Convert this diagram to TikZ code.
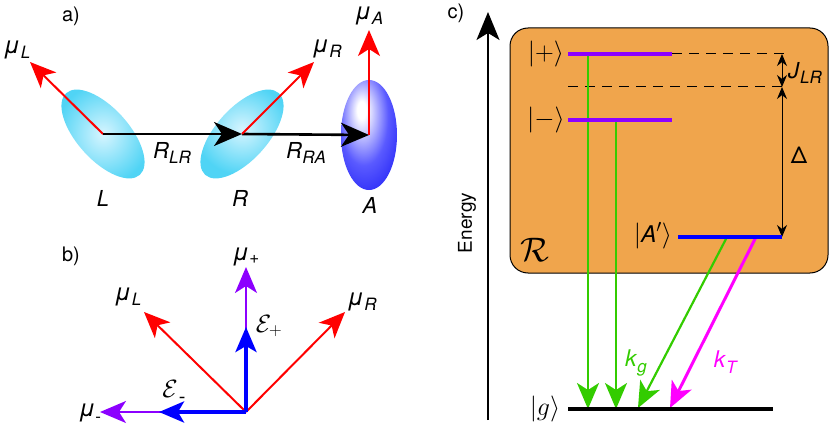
\RequirePackage{fix-cm}
\documentclass[tikz,border=0pt]{standalone}
\usepackage{fontspec}
\setmainfont{TeX Gyre Heros}
\usetikzlibrary{arrows.meta,shapes.geometric}
\definecolor{myred}{RGB}{255,0,0}
\definecolor{mypurple}{RGB}{140,0,255}
\definecolor{mygreen}{RGB}{51,204,0}
\definecolor{mymag}{RGB}{255,0,255}
\definecolor{myorange}{RGB}{240,165,76}
\definecolor{mycyan}{RGB}{80,212,245}
\definecolor{mycyanlight}{RGB}{215,245,255}
\definecolor{myblue}{RGB}{0,0,255}
\definecolor{myblueA}{RGB}{25,25,245}
\definecolor{myblueB}{RGB}{90,90,255}
\pgfdeclareradialshading{ashade}{\pgfpoint{-7bp}{12bp}}{color(0bp)=(white); color(4bp)=(white); color(22bp)=(myblueB); color(40bp)=(myblueA); color(70bp)=(myblueA)}
\newcommand{\sublab}[2]{{\fontsize{24}{24}\selectfont\textit{#1}}\kern0.5pt\raisebox{-0.45ex}{\fontsize{17}{17}\selectfont\textit{#2}}}
\newcommand{\Rlab}[2]{\textit{#1}\kern0.3pt\raisebox{-0.45ex}{\fontsize{17}{17}\selectfont\textit{#2}}}
\begin{document}
\begin{tikzpicture}[x=1pt,y=-1pt,
  font=\fontsize{22}{24}\selectfont,
  bigtip/.style={-{Stealth[length=26pt,width=22pt,inset=7pt]}},
  redarr/.style={draw=myred, line width=2pt, bigtip},
  blackarr/.style={draw=black, line width=2.6pt, -{Stealth[length=28pt,width=24pt,inset=8pt]}},
  purparr/.style={draw=mypurple, line width=2pt, bigtip},
  bluearr/.style={draw=myblue, line width=4pt, -{Stealth[length=25pt,width=21pt,inset=6pt]}},
  greenarr/.style={draw=mygreen, line width=2.2pt, bigtip},
  magarr/.style={draw=mymag, line width=3pt, bigtip},
  level/.style={line width=4pt},
  dashline/.style={draw=black, line width=1pt, dash pattern=on 10pt off 7pt},
  gaparr/.style={draw=black, line width=1pt, {Stealth[length=12pt,width=10pt]}-{Stealth[length=12pt,width=10pt]}},
  lab/.style={inner sep=0pt},
  mathlab/.style={inner sep=0pt, font=\fontsize{26}{28}\selectfont}
]
\useasboundingbox (0,0) rectangle (831,436);

% ---------------- panel a ----------------
\node[lab, font=\fontsize{20}{22}\selectfont] (la) at (71,16) {a)};
\node[ellipse, minimum width=110pt, minimum height=52pt, rotate=-48, inner sep=0pt,
      shade, inner color=mycyanlight, outer color=mycyan] (ellL) at (103,134) {};
\node[ellipse, minimum width=110pt, minimum height=52pt, rotate=48, inner sep=0pt,
      shade, inner color=mycyanlight, outer color=mycyan] (ellR) at (242,134) {};
\node[ellipse, minimum width=56pt, minimum height=110pt, inner sep=0pt,
      shade, shading=ashade] (ellA) at (369,135) {};
\coordinate (tipL) at (30,62);
\coordinate (tipR) at (314,62);
\coordinate (tipA) at (369,30);
\draw[redarr] (ellL.center) -- (tipL);
\draw[blackarr] (ellL.center) -- (ellR.center);
\draw[blackarr] (ellR.center) -- (ellA.center);
\draw[redarr] (ellR.center) -- (tipR);
\draw[redarr] (ellA.center) -- (tipA);
\node[lab] (muL) at (17,50) {\sublab{μ}{L}};
\node[lab] (muR) at (327,49) {\sublab{μ}{R}};
\node[lab] (muA) at (369,16) {\sublab{μ}{A}};
\node[lab] (RLR) at (172,153) {\Rlab{R}{LR}};
\node[lab] (RRA) at (306,153) {\Rlab{R}{RA}};
\node[lab] (nL) at (103,198) {\textit{L}};
\node[lab] (nR) at (240,198) {\textit{R}};
\node[lab] (nA) at (370,205) {\textit{A}};

% ---------------- panel b ----------------
\node[lab, font=\fontsize{20}{22}\selectfont] (lb) at (71,256) {b)};
\coordinate (O) at (246,412);
\coordinate (bL) at (144,312);
\coordinate (bR) at (345,312);
\coordinate (bP) at (246,267);
\coordinate (bM) at (100,412);
\coordinate (bEP) at (246,327);
\coordinate (bEM) at (159,412);
\draw[redarr] (O) -- (bL);
\draw[redarr] (O) -- (bR);
\draw[purparr] (O) -- (bP);
\draw[purparr] (O) -- (bM);
\draw[bluearr] (O) -- (bEP);
\draw[bluearr] (O) -- (bEM);
\node[lab] (bmuL) at (128,297) {\sublab{μ}{L}};
\node[lab] (bmuR) at (362,302) {\sublab{μ}{R}};
\node[lab] (bmuP) at (246,257) {{\fontsize{24}{24}\selectfont\textit{μ}}\raisebox{-0.3ex}{\fontsize{17}{17}\selectfont +}};
\node[lab] (bmuM) at (90,413) {{\fontsize{24}{24}\selectfont\textit{μ}}\raisebox{-0.5ex}{\fontsize{17}{17}\selectfont -}};
\node[lab, font=\fontsize{25}{27}\selectfont] (bEPl) at (269,326) {$\mathcal{E}_+$};
\node[lab, font=\fontsize{25}{27}\selectfont] (bEMl) at (174,392) {{$\mathcal{E}$}\kern1pt{\fontsize{20}{20}\selectfont\raisebox{-0.5ex}{-}}};

% ---------------- panel c ----------------
\node[lab, font=\fontsize{20}{22}\selectfont] (lc) at (456,13) {c)};
\coordinate (eBot) at (488,420);
\coordinate (eTop) at (488,12);
\draw[line width=2pt, -{Stealth[length=28pt,width=23pt,inset=7pt]}] (eBot) -- (eTop);
\node[lab, rotate=90, font=\fontsize{19}{20}\selectfont] (energy) at (467,223) {Energy};

\draw[fill=myorange, draw=black, line width=1pt, rounded corners=18pt] (510,28) rectangle (828,273);
\node[lab, font=\fontsize{34}{36}\selectfont] (calR) at (535,250) {$\mathcal{R}$};

\coordinate (p1) at (568,54);  \coordinate (p2) at (672,54); \coordinate (p3) at (788,54);
\coordinate (d1) at (568,87);  \coordinate (d2) at (788,87);
\coordinate (m1) at (568,120); \coordinate (m2) at (672,120);
\coordinate (a1) at (678,237); \coordinate (a2) at (782,237);
\coordinate (g1) at (568,409); \coordinate (g2) at (773,409);
\coordinate (jt) at (782,54);  \coordinate (jb) at (782,87);

\draw[dashline] (p2) -- (p3);
\draw[dashline] (d1) -- (d2);
\draw[gaparr] (jt) -- (jb);
\draw[gaparr] (jb) -- (a2);

\coordinate (gs1) at (588,54);  \coordinate (ge1) at (588,409);
\coordinate (gs2) at (616,120); \coordinate (ge2) at (616,409);
\coordinate (gs3) at (727,237); \coordinate (ge3) at (638,408);
\coordinate (ms) at (756,237);  \coordinate (me) at (670,408);
\draw[greenarr] (gs1) -- (ge1);
\draw[greenarr] (gs2) -- (ge2);
\draw[greenarr] (gs3) -- (ge3);
\draw[magarr] (ms) -- (me);

\draw[level, draw=mypurple] (p1) -- (p2);
\draw[level, draw=mypurple] (m1) -- (m2);
\draw[level, draw=myblue] (a1) -- (a2);
\draw[level, draw=black] (g1) -- (g2);

\node[mathlab] (kplus) at (546,54) {$|+\rangle$};
\node[mathlab] (kminus) at (546,120) {$|-\rangle$};
\node[mathlab] (kA) at (653,236) {$|\mbox{\fontsize{23}{25}\selectfont\textit{A}}'\rangle$};
\node[mathlab] (kg) at (545,409) {$|g\rangle$};
\node[lab] (JLR) at (805,73) {\Rlab{J}{LR}};
\node[lab, font=\fontsize{23}{25}\selectfont] (Delta) at (799,155) {Δ};
\node[lab, text=mygreen, font=\fontsize{23}{25}\selectfont] (kgl) at (636,363) {\textit{k}\raisebox{-0.5ex}{\fontsize{17}{17}\selectfont\textit{g}}};
\node[lab, text=mymag, font=\fontsize{23}{25}\selectfont] (kTl) at (726,362) {\textit{k}\raisebox{-0.5ex}{\fontsize{17}{17}\selectfont\textit{T}}};
\end{tikzpicture}
\end{document}
